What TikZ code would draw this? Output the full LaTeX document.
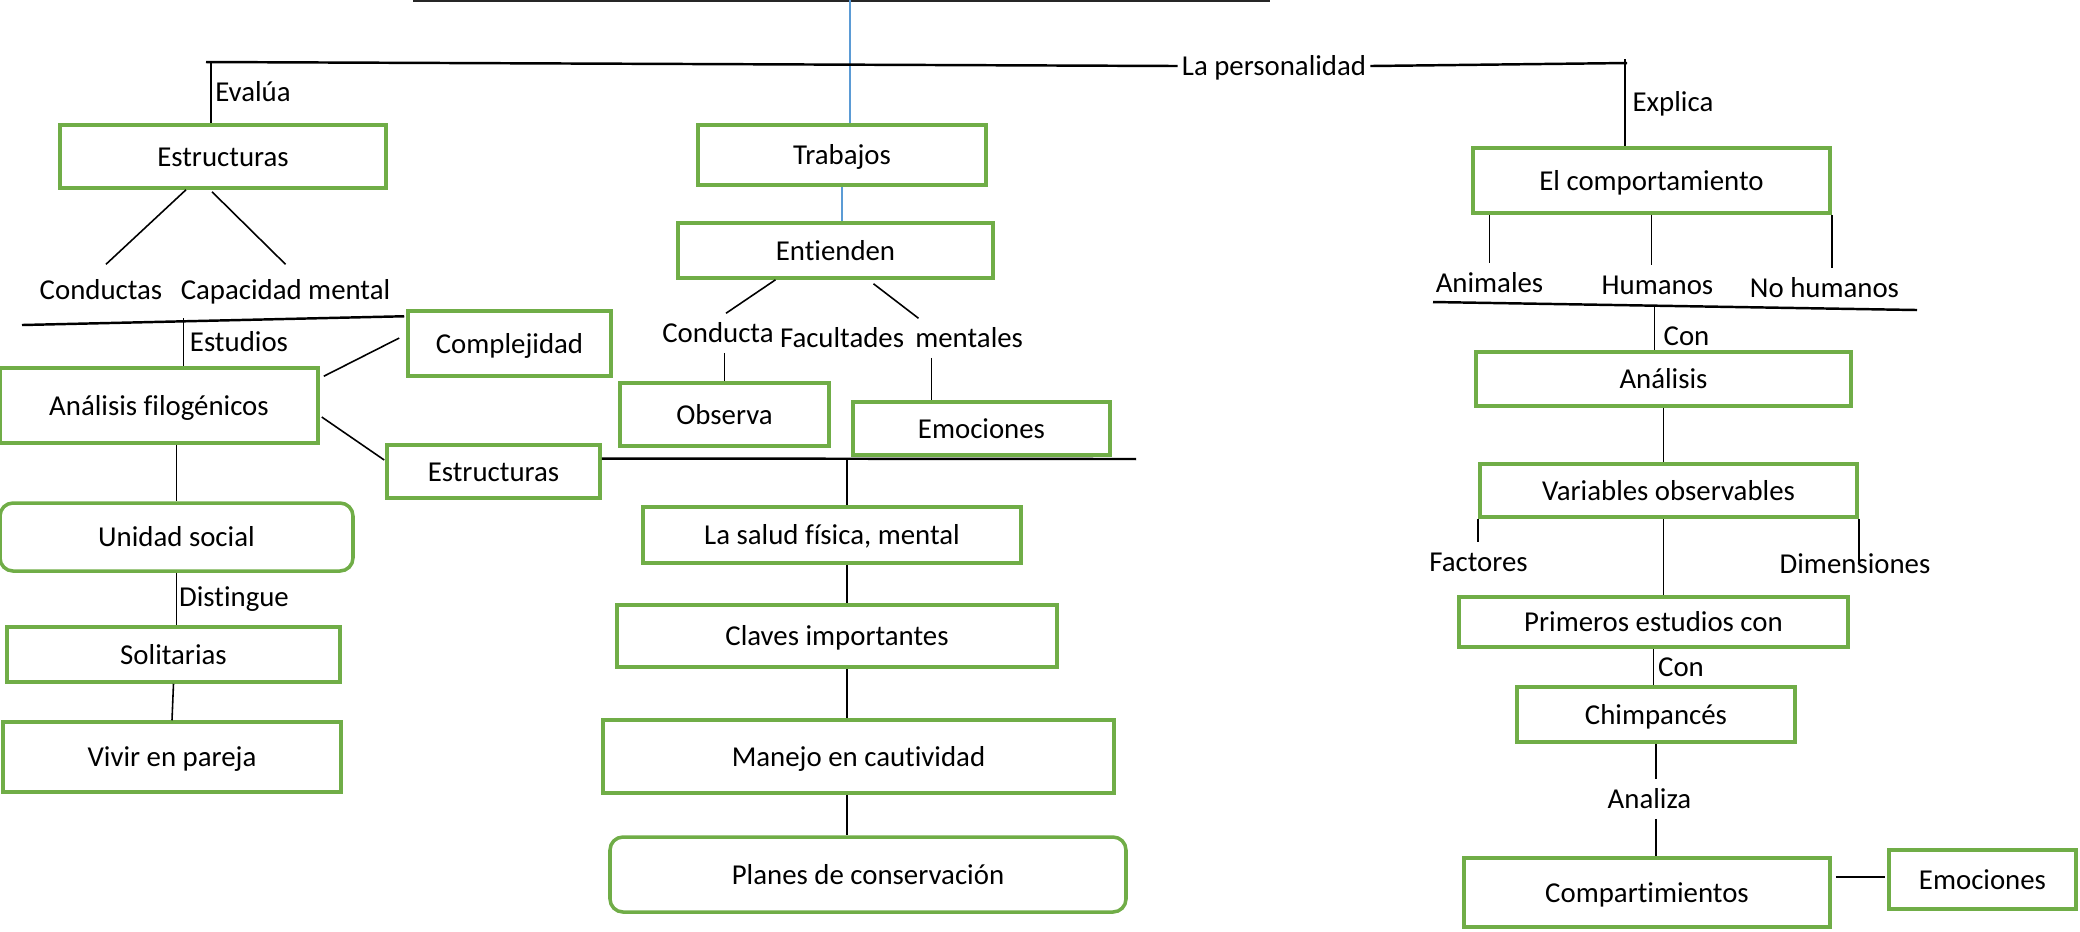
\documentclass[tikz,border=0pt]{standalone}
\usepackage{fontspec}
\setmainfont{Carlito}[Ligatures=NoCommon]
\usetikzlibrary{calc}
\definecolor{boxgreen}{HTML}{70AD47}
\definecolor{linkblue}{HTML}{5B9BD5}
\begin{document}
\begin{tikzpicture}[font=\fontsize{8.2}{9.8}\selectfont,
  box/.style={draw=boxgreen, line width=1pt, inner sep=1pt, text height=1.5ex, text depth=0.35ex},
  rbox/.style={box, rounded corners=1.3mm},
  lbl/.style={inner sep=1pt, text height=1.5ex, text depth=0.35ex},
  con/.style={line width=0.45pt},
  bar/.style={line width=0.7pt}]
  \useasboundingbox (0,0) rectangle (20.80,-9.31);
  \node[box, minimum width=3.26cm, minimum height=0.63cm] (estA) at (2.23,-1.565) {Estructuras};
  \node[box, minimum width=2.88cm, minimum height=0.60cm] (trab) at (8.42,-1.55) {Trabajos};
  \node[box, minimum width=3.15cm, minimum height=0.55cm] (ent) at (8.355,-2.505) {Entienden};
  \node[box, minimum width=2.03cm, minimum height=0.65cm] (compl) at (5.095,-3.435) {Complejidad};
  \node[box, minimum width=3.18cm, minimum height=0.75cm] (anf) at (1.59,-4.055) {Análisis filogénicos};
  \node[box, minimum width=2.09cm, minimum height=0.63cm] (obs) at (7.245,-4.145) {Observa};
  \node[box, minimum width=2.57cm, minimum height=0.53cm] (emoA) at (9.815,-4.285) {Emociones};
  \node[box, minimum width=2.13cm, minimum height=0.53cm] (estB) at (4.935,-4.715) {Estructuras};
  \node[box, minimum width=3.78cm, minimum height=0.56cm] (salud) at (8.32,-5.35) {La salud física, mental};
  \node[rbox, minimum width=3.53cm, minimum height=0.68cm] (unid) at (1.765,-5.37) {Unidad social};
  \node[box, minimum width=3.33cm, minimum height=0.55cm] (sol) at (1.735,-6.545) {Solitarias};
  \node[box, minimum width=3.38cm, minimum height=0.70cm] (viv) at (1.72,-7.57) {Vivir en pareja};
  \node[box, minimum width=4.40cm, minimum height=0.62cm] (clav) at (8.37,-6.36) {Claves importantes};
  \node[box, minimum width=5.11cm, minimum height=0.73cm] (man) at (8.585,-7.565) {Manejo en cautividad};
  \node[rbox, minimum width=5.16cm, minimum height=0.75cm] (plan) at (8.68,-8.745) {Planes de conservación};
  \node[box, minimum width=3.57cm, minimum height=0.65cm] (comp) at (16.515,-1.805) {El comportamiento};
  \node[box, minimum width=3.75cm, minimum height=0.54cm] (anal) at (16.635,-3.79) {Análisis};
  \node[box, minimum width=3.77cm, minimum height=0.53cm] (var) at (16.685,-4.905) {Variables observables};
  \node[box, minimum width=3.89cm, minimum height=0.50cm] (prim) at (16.535,-6.22) {Primeros estudios con};
  \node[box, minimum width=2.78cm, minimum height=0.55cm] (chim) at (16.56,-7.145) {Chimpancés};
  \node[box, minimum width=3.66cm, minimum height=0.69cm] (cmpt) at (16.47,-8.925) {Compartimientos};
  \node[box, minimum width=1.87cm, minimum height=0.59cm] (emoB) at (19.825,-8.795) {Emociones};

  \node[lbl] (lapers) at (12.74,-0.66) {La personalidad};
  \node[lbl] (evalua) at (2.53,-0.92) {Evalúa};
  \node[lbl] (conductas) at (1.01,-2.90) {Conductas};
  \node[lbl] (capac) at (2.855,-2.90) {Capacidad mental};
  \node[lbl] (estudios) at (2.39,-3.42) {Estudios};
  \node[lbl] (conducta) at (7.18,-3.33) {Conducta};
  \node[lbl] (facult) at (9.015,-3.38) {Facultades\, mentales};
  \node[lbl] (distingue) at (2.34,-5.97) {Distingue};
  \node[lbl] (explica) at (16.73,-1.02) {Explica};
  \node[lbl] (animales) at (14.895,-2.83) {Animales};
  \node[lbl] (humanos) at (16.575,-2.85) {Humanos};
  \node[lbl] (nohum) at (18.245,-2.88) {No humanos};
  \node[lbl] (con1) at (16.865,-3.36) {Con};
  \node[lbl] (factores) at (14.785,-5.62) {Factores};
  \node[lbl] (dimens) at (18.55,-5.64) {Dimensiones};
  \node[lbl] (con2) at (16.81,-6.67) {Con};
  \node[lbl] (analiza) at (16.495,-7.99) {Analiza};

  \coordinate (topL) at (4.13,0);
  \coordinate (topR) at (12.70,0);
  \coordinate (topB) at (8.50,0);
  \coordinate (hubL) at (2.06,-0.62);
  \coordinate (hubR) at (16.27,-0.63);
  \coordinate (tickR) at (16.25,-0.59);
  \coordinate (ulL) at (0.22,-3.25);
  \coordinate (jM) at (8.47,-4.585);
  \coordinate (endM) at (11.36,-4.59);
  \coordinate (ulR1) at (14.33,-3.02);
  \coordinate (ulR2) at (19.17,-3.10);

  \draw[line width=1.2pt, black!85] (topL) -- (topR);
  \draw[linkblue, con] (topB) -- (trab.north -| topB);
  \draw[linkblue, con] (trab.south) -- (ent.north -| trab.south);
  \draw[bar] (hubL) -- (lapers.west);
  \draw[bar] (lapers.east) -- (hubR);
  \draw[con] (tickR) -- (comp.north -| tickR);
  \draw[con] (evalua.west |- hubL) -- (evalua.west |- estA.north);
  \draw[con] ($(estA.south)+(-0.37,0)$) -- ($(conductas.north)+(0.05,0.06)$);
  \draw[con] ($(estA.south)+(-0.11,-0.02)$) -- ($(capac.north)+(0,0.06)$);
  \draw[bar] (ulL) -- ($(compl.north west)+(-0.02,-0.07)$);
  \draw[con] ($(ulL)!0.42!(compl.north west)$) coordinate (stL) -- (anf.north -| stL);
  \draw[con] ($(anf.north east)+(0.04,-0.10)$) -- ($(compl.west)+(-0.07,0.055)$);
  \draw[con] ($(anf.east)+(0.02,-0.115)$) -- ($(estB.west)+(-0.01,0.115)$);
  \draw[con] (anf.south -| unid.north) -- (unid.north);
  \draw[con] (unid.south) -- (sol.north -| unid.south);
  \draw[con] (sol.south) -- (viv.north);
  \draw[con] ($(ent.south)+(-0.60,0)$) -- ($(conducta.north)+(0.08,0)$);
  \draw[con] ($(ent.south)+(0.38,-0.04)$) -- ($(facult.north)+(0.17,0)$);
  \draw[con] (conducta.south -| obs.north) -- (obs.north);
  \draw[con] ($(facult.south)+(0.30,0)$) coordinate (fm) -- (emoA.north -| fm);
  \draw[bar] (estB.east |- jM) -- (endM);
  \draw[con] (jM) -- (salud.north -| jM);
  \draw[con] (salud.south -| jM) -- (clav.north -| jM);
  \draw[con] (clav.south -| jM) -- (man.north -| jM);
  \draw[con] (man.south -| jM) -- (plan.north -| jM);
  \draw[con] (comp.south -| animales) -- (animales.north);
  \draw[con] (comp.south) -- (comp.south |- humanos.north);
  \draw[con] (comp.south east) -- (comp.south east |- nohum.north);
  \draw[bar] (ulR1) -- (ulR2);
  \draw[con] ($(ulR1)!0.458!(ulR2)$) coordinate (conR) -- (anal.north -| conR);
  \draw[con] (anal.south) -- (var.north -| anal.south);
  \draw[con] (var.south west) -- (var.south west |- factores.north);
  \draw[con] (var.south -| anal.south) -- (prim.north -| anal.south);
  \draw[con] (var.south east) -- (var.south east |- dimens);
  \draw[con] (prim.south) -- (chim.north -| prim.south);
  \draw[con] (chim.south) -- (chim.south |- analiza.north);
  \draw[con] (analiza.south -| chim.south) -- (cmpt.north -| chim.south);
  \draw[con] ($(cmpt.east)+(0.04,0.155)$) coordinate (ce) -- ($(emoB.west |- ce)+(-0.02,0)$);
\end{tikzpicture}
\end{document}
